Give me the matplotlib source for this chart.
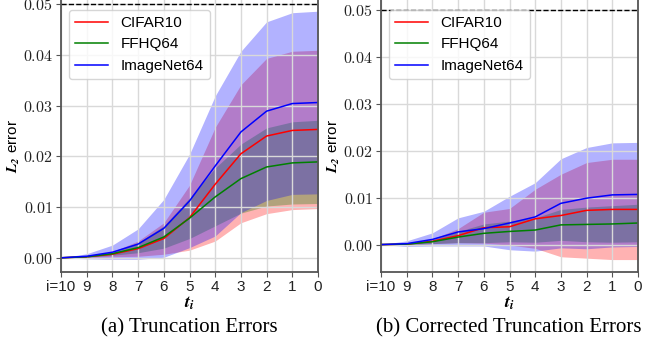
import numpy as np
import matplotlib
matplotlib.use("Agg")
import matplotlib.pyplot as plt

plt.rcParams['font.family'] = ['Liberation Sans', 'DejaVu Sans']
plt.rcParams['mathtext.fontset'] = 'cm'

steps = [10, 9, 8, 7, 6, 5, 4, 3, 2, 1, 0]
tick_labels = ['i=10', '9', '8', '7', '6', '5', '4', '3', '2', '1', '0']
names = ['CIFAR10', 'FFHQ64', 'ImageNet64']
colors = ['red', 'green', 'blue']

# (a) truncation errors: mean and std per step
trunc_cifar = [0, 0.0002, 0.0007, 0.0018, 0.0038, 0.0079, 0.0145, 0.0205, 0.0240, 0.0251, 0.0253]
trunc_cifar_std = [0, 0.0001, 0.0005, 0.0015, 0.0031, 0.0064, 0.0112, 0.0136, 0.0153, 0.0156, 0.0156]
trunc_ffhq = [0, 0.0002, 0.0008, 0.0020, 0.0041, 0.0078, 0.0120, 0.0156, 0.0179, 0.0187, 0.0189]
trunc_ffhq_std = [0, 0.0001, 0.0003, 0.0010, 0.0022, 0.0040, 0.0057, 0.0068, 0.0077, 0.0081, 0.0082]
trunc_imnet = [0, 0.0003, 0.0011, 0.0027, 0.0058, 0.0112, 0.0181, 0.0248, 0.0289, 0.0304, 0.0306]
trunc_imnet_std = [0, 0.0005, 0.0014, 0.0030, 0.0057, 0.0092, 0.0138, 0.0159, 0.0176, 0.0179, 0.0180]

# (b) corrected truncation errors
corr_cifar = [0, 0.0001, 0.0007, 0.0019, 0.0036, 0.0038, 0.0055, 0.0062, 0.0073, 0.0075, 0.0075]
corr_cifar_std = [0, 0.0001, 0.0005, 0.0015, 0.0033, 0.0039, 0.0063, 0.0088, 0.0102, 0.0107, 0.0107]
corr_ffhq = [0, 0.0001, 0.0006, 0.0016, 0.0024, 0.0028, 0.0031, 0.0042, 0.0043, 0.0044, 0.0046]
corr_ffhq_std = [0, 0.0001, 0.0004, 0.0012, 0.0020, 0.0022, 0.0026, 0.0033, 0.0037, 0.0039, 0.0040]
corr_imnet = [0, 0.0002, 0.0011, 0.0027, 0.0034, 0.0046, 0.0059, 0.0088, 0.0099, 0.0106, 0.0107]
corr_imnet_std = [0, 0.0006, 0.0014, 0.0030, 0.0037, 0.0057, 0.0073, 0.0095, 0.0108, 0.0111, 0.0111]

panels = [
    ('(a) Truncation Errors', [trunc_cifar, trunc_ffhq, trunc_imnet],
     [trunc_cifar_std, trunc_ffhq_std, trunc_imnet_std], (-0.0028, 0.0512)),
    ('(b) Corrected Truncation Errors', [corr_cifar, corr_ffhq, corr_imnet],
     [corr_cifar_std, corr_ffhq_std, corr_imnet_std], (-0.00585, 0.0526)),
]

fig = plt.figure(figsize=(6.56, 3.47), dpi=100)
lefts = [61 / 656, 381 / 656]
x = np.arange(len(steps))

for (title, means, stds, ylim), left in zip(panels, lefts):
    ax = fig.add_axes([left, 75 / 347, 257 / 656, 274 / 347])
    for m, s, c in zip(means, stds, colors):
        m = np.array(m)
        s = np.array(s)
        ax.fill_between(x, m - s, m + s, color=c, alpha=0.3, lw=0)
    for m, c, n in zip(means, colors, names):
        ax.plot(x, m, color=c, lw=1.1, label=n)
    ax.axhline(0.05, color='black', ls='--', lw=1)
    ax.set_xlim(0, 10)
    ax.set_ylim(*ylim)
    ax.set_xticks(x)
    ax.set_xticklabels(tick_labels, fontsize=11)
    yt = [0.0, 0.01, 0.02, 0.03, 0.04, 0.05]
    ax.set_yticks(yt)
    ax.set_yticklabels(['$%.2f$' % v for v in yt], fontsize=11.5)
    ax.grid(True, color='#d9d9d9', lw=1)
    for sp in ax.spines.values():
        sp.set_color('#555555')
        sp.set_linewidth(1.3)
    ax.tick_params(colors='#555555', labelcolor='#222222', pad=2.5)
    ax.set_ylabel(r'$\mathbfit{L_2}$ error', fontsize=11, math_fontfamily='stix')
    ax.yaxis.set_label_coords(-0.15, 0.46)
    ax.set_xlabel(r'$\mathbfit{t_i}$', fontsize=13, labelpad=0, math_fontfamily='stix')
    ax.legend(loc='upper left', fontsize=11, bbox_to_anchor=(0.0, 0.985),
              handlelength=2.2)
    fig.text(left + 128 / 656, 19 / 347, title, ha='center', va='center',
             family='Liberation Serif', fontsize=15)

fig.savefig('out.png', dpi=100)
